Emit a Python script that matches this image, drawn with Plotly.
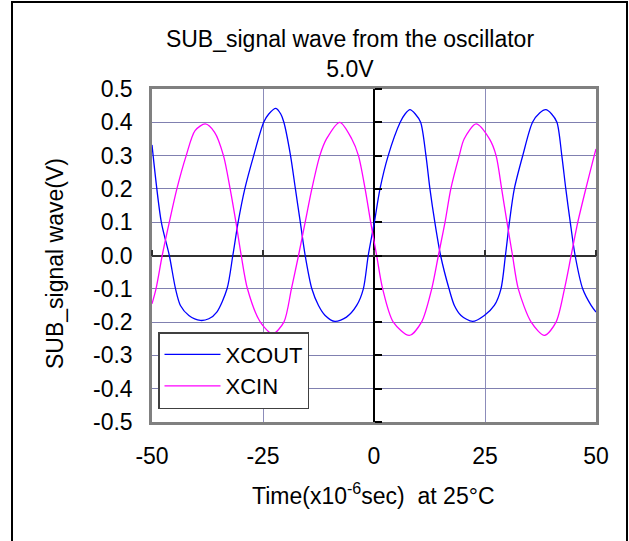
import plotly.graph_objects as go

# ---- data ----
xcout_t = [-50, -47.9, -46.1, -44.7, -43.6, -41.7, -39.1, -37.2, -35.4, -33.1, -31.8, -30.6, -29.1,
           -27.1, -24.85, -23.7, -22.1, -21.0, -20.3, -18.8, -17.7, -16.6, -15.5, -14.0, -12.5, -11.0,
           -8.8, -6.2, -3.9, -2.4, -1.3, 0.08, 1.35, 3.2, 5.9, 7.0, 8.1, 9.3, 10.5, 11.7, 12.6, 13.7,
           15.0, 16.9, 18.1, 19.6, 22.2, 24.85, 27.1, 28.6, 29.6, 30.5, 31.6, 33.5, 35.7, 37.3, 38.7,
           40.0, 41.2, 42.3, 43.2, 44.2, 45.3, 47.0, 48.9, 50]
xcout_v = [0.332, 0.10, 0.00, -0.10, -0.15, -0.18, -0.195, -0.19, -0.17, -0.10, 0.00, 0.10, 0.20,
           0.30, 0.40, 0.425, 0.442, 0.425, 0.40, 0.30, 0.20, 0.10, 0.00, -0.10, -0.15, -0.18,
           -0.198, -0.185, -0.15, -0.10, 0.00, 0.10, 0.20, 0.30, 0.40, 0.425, 0.438, 0.425, 0.40, 0.30,
           0.20, 0.10, 0.00, -0.10, -0.15, -0.18, -0.198, -0.18, -0.15, -0.10, 0.00, 0.10, 0.20, 0.30,
           0.40, 0.428, 0.438, 0.425, 0.40, 0.30, 0.20, 0.10, 0.00, -0.10, -0.15, -0.17]

xcin_t = [-50, -49.1, -47.7, -46.1, -44.4, -42.3, -40.3, -38.0, -35.9, -33.9, -32.4, -31.1, -29.9,
          -28.5, -25.6, -22.8, -20.3, -18.6, -17.0, -15.5, -14.0, -12.2, -10.7, -7.7, -5.0, -3.5,
          -2.0, -0.75, 0.6, 1.95, 4.35, 7.96, 10.7, 13.0, 14.5, 16.0, 17.3, 19.2, 20.3, 23.0, 26.0,
          27.5, 28.75, 29.95, 31.2, 32.5, 35.4, 38.4, 41.0, 42.9, 44.4, 45.9, 47.7, 49.6, 50]
xcin_v = [-0.145, -0.10, 0.00, 0.10, 0.20, 0.30, 0.375, 0.395, 0.37, 0.30, 0.20, 0.10, 0.00,
          -0.10, -0.20, -0.235, -0.20, -0.10, 0.00, 0.10, 0.20, 0.30, 0.35, 0.40, 0.35, 0.30,
          0.20, 0.10, 0.00, -0.10, -0.20, -0.24, -0.20, -0.10, 0.00, 0.10, 0.20, 0.30, 0.35, 0.395,
          0.35, 0.30, 0.20, 0.10, 0.00, -0.10, -0.20, -0.24, -0.20, -0.10, 0.00, 0.10, 0.20, 0.30, 0.32]

x_tickvals = [-50, -25, 0, 25, 50]
x_ticktext = ["-50", "-25", "0", "25", "50"]
y_tickvals = [0.5, 0.4, 0.3, 0.2, 0.1, 0.0, -0.1, -0.2, -0.3, -0.4, -0.5]
y_ticktext = ["0.5", "0.4", "0.3", "0.2", "0.1", "0.0", "-0.1", "-0.2", "-0.3", "-0.4", "-0.5"]

FONT = "Liberation Sans, Arial, sans-serif"
W, H = 629, 541
L, R, T, B = 152, 33, 89, 119
PW, PH = W - L - R, H - T - B

def px_x(p):
    return (p - L) / PW

def px_y(p):
    return (H - B - p) / PH

fig = go.Figure()
fig.add_trace(go.Scatter(x=xcout_t, y=xcout_v, name="XCOUT", mode="lines",
                         line=dict(color="#0000FF", width=1.3, shape="spline", smoothing=0.8)))
fig.add_trace(go.Scatter(x=xcin_t, y=xcin_v, name="XCIN", mode="lines",
                         line=dict(color="#FF00FF", width=1.3, shape="spline", smoothing=0.8)))
# empty trace to activate the crossing axes (tick marks at the zero lines)
fig.add_trace(go.Scatter(x=[], y=[], xaxis="x2", yaxis="y2", showlegend=False, hoverinfo="skip"))

fig.update_layout(
    width=W, height=H,
    margin=dict(l=L, r=R, t=T, b=B),
    paper_bgcolor="white", plot_bgcolor="white",
    font=dict(family=FONT, size=23, color="black"),
    showlegend=True,
    legend=dict(x=px_x(158), y=px_y(409), xanchor="left", yanchor="bottom",
                bgcolor="white", bordercolor="#404040", borderwidth=1.5,
                font=dict(size=22), tracegroupgap=0, itemwidth=56),
    title=dict(text="SUB_signal wave from the oscillator<br>5.0V", x=px_x(350), xref="paper",
               y=1 - 47 / H, yref="container", xanchor="center", yanchor="middle",
               font=dict(size=23)),
    xaxis=dict(range=[-50, 50], tickvals=x_tickvals, ticktext=x_ticktext, ticks="",
               showgrid=True, gridcolor="#8C8CBA", gridwidth=1,
               zeroline=True, zerolinecolor="black", zerolinewidth=1.5,
               showline=True, mirror=True, linecolor="#808080", linewidth=2.5,
               ticklabelstandoff=12, tickfont=dict(size=23)),
    yaxis=dict(range=[-0.5, 0.5], tickvals=y_tickvals, ticktext=y_ticktext, ticks="",
               showgrid=True, gridcolor="#8080B0", gridwidth=1,
               zeroline=True, zerolinecolor="#303030", zerolinewidth=2,
               showline=True, mirror=True, linecolor="#808080", linewidth=2.5,
               ticklabelstandoff=12, tickfont=dict(size=23)),
    xaxis2=dict(overlaying="x", anchor="free", position=0.5, side="top",
                range=[-50, 50], tickvals=x_tickvals, ticks="outside", ticklen=6,
                tickwidth=1.5, tickcolor="#303030", showticklabels=False,
                showgrid=False, zeroline=False, showline=False),
    yaxis2=dict(overlaying="y", anchor="free", position=0.5, side="right",
                range=[-0.5, 0.5], tickvals=y_tickvals, ticks="outside", ticklen=7,
                tickwidth=1.5, tickcolor="black", showticklabels=False,
                showgrid=False, zeroline=False, showline=False),
    annotations=[
        dict(text="SUB_signal wave(V)", textangle=-90, x=px_x(55), y=px_y(264),
             xref="paper", yref="paper", xanchor="center", yanchor="middle",
             showarrow=False, font=dict(size=23)),
        dict(text="Time(x10<sup>-6</sup>sec)  at 25°C", x=px_x(373), y=px_y(494),
             xref="paper", yref="paper", xanchor="center", yanchor="middle",
             showarrow=False, font=dict(size=23)),
    ],
    shapes=[dict(type="rect", xref="paper", yref="paper",
                 x0=px_x(12), x1=px_x(627), y0=px_y(548), y1=px_y(2),
                 line=dict(color="black", width=2), fillcolor="rgba(0,0,0,0)", layer="below")],
)

fig.write_html("out.html", config={"displayModeBar": False},
               post_script="document.body.style.margin='0';document.body.style.padding='0';")
